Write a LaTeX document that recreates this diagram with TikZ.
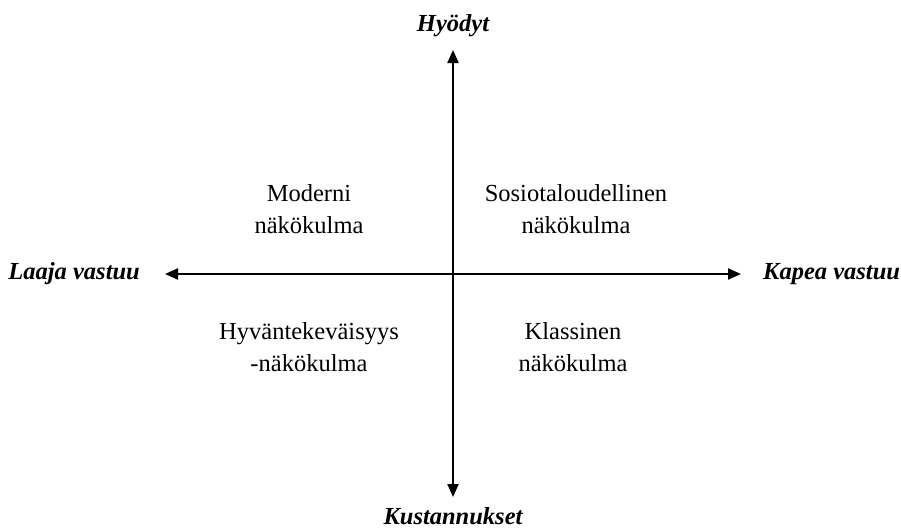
\documentclass[tikz,border=0pt]{standalone}
\usepackage{fontspec}
\setmainfont{Liberation Serif}
\usepackage{tikz}
\usetikzlibrary{positioning}
\usetikzlibrary{arrows.meta}
\tikzset{
  % The two axes, arrow tip at both ends
  axis/.style={
    {Triangle[length=13pt,width=11pt]}-{Triangle[length=13pt,width=11pt]},
    line width=2.2pt, draw=black},
  % Axis end labels
  axislbl/.style={
    font=\fontsize{24.5}{30}\selectfont\bfseries\itshape, inner sep=0pt},
  % A quadrant: two lines of text
  view/.style={
    align=center, inner sep=0pt,
    font=\fontsize{24.5}{32}\selectfont},
}

\begin{document}
\begin{tikzpicture}[x=1pt, y=-1pt]

\useasboundingbox (0,0) rectangle (901,528);

\coordinate (top) at (453,50);
\coordinate (bot) at (453,497);
\coordinate (lft) at (165,274);
\coordinate (rgt) at (741,274);

\draw[axis] (bot) -- (top);
\draw[axis] (lft) -- (rgt);

\node[axislbl, above=13pt of top] (benefit) {Hyödyt};
\node[axislbl, below=10pt of bot] (cost) {Kustannukset};
\node[axislbl, left=25pt of lft] (broad) {Laaja vastuu};
\node[axislbl, right=22pt of rgt] (narrow) {Kapea vastuu};

\node[view] (modern) at (309,209) {Moderni\\näkökulma};
\node[view] (socio) at (576,209) {Sosiotaloudellinen\\näkökulma};
\node[view] (charity) at (309,347) {Hyväntekeväisyys\\-näkökulma};
\node[view] (classic) at (573,347) {Klassinen\\näkökulma};

\end{tikzpicture}
\end{document}
